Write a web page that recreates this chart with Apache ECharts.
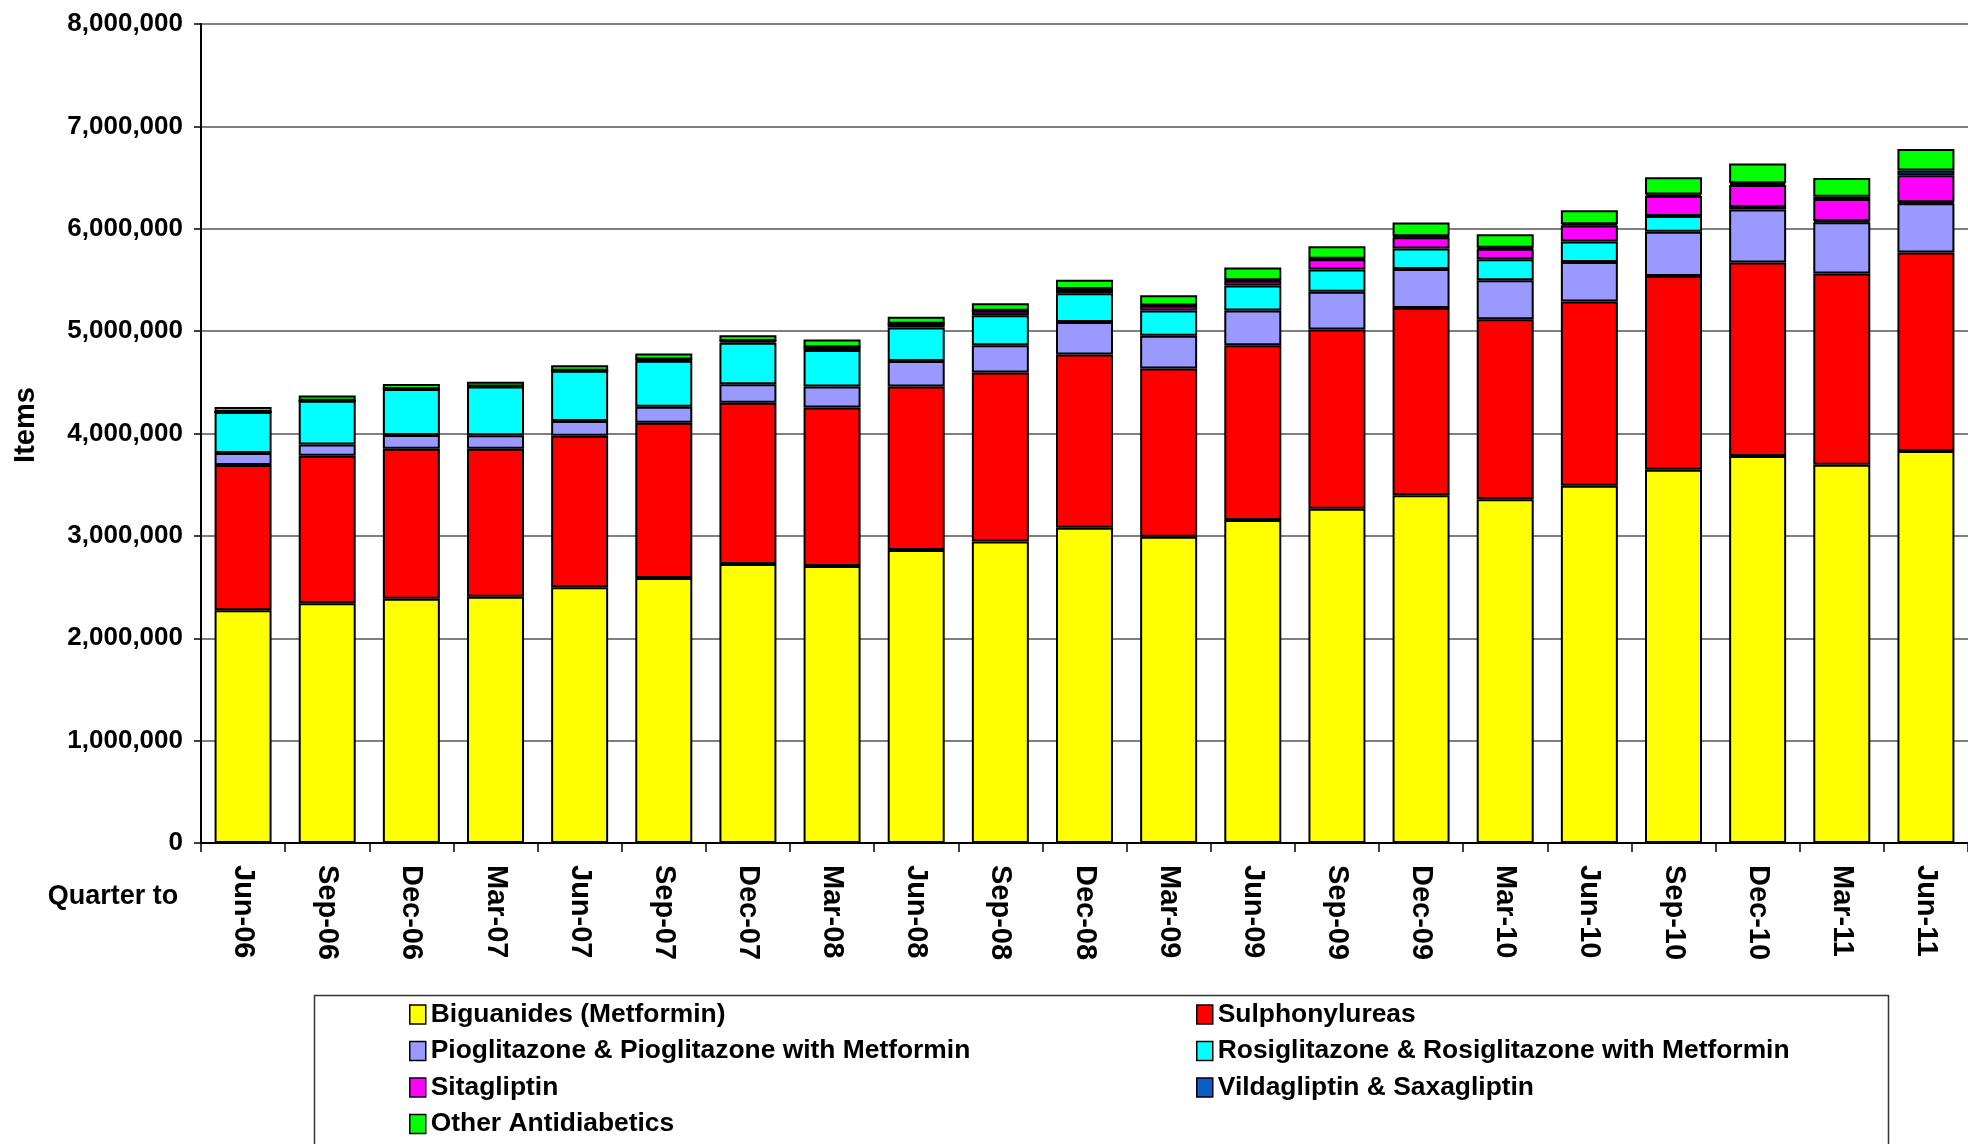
<!DOCTYPE html>
<html>
<head>
<meta charset="utf-8">
<script src="https://cdn.jsdelivr.net/npm/echarts@6/dist/echarts.min.js"></script>
<style>
html,body{margin:0;padding:0;background:#fff;}
#chart{width:1968px;height:1144px;}
</style>
</head>
<body>
<div id="chart"></div>
<script>
const categories = ['Jun-06','Sep-06','Dec-06','Mar-07','Jun-07','Sep-07','Dec-07','Mar-08','Jun-08','Sep-08','Dec-08','Mar-09','Jun-09','Sep-09','Dec-09','Mar-10','Jun-10','Sep-10','Dec-10','Mar-11','Jun-11'];

const biguanides = [2273000,2341000,2386000,2405000,2497000,2588000,2725000,2705000,2861000,2946000,3079000,2991000,3154000,3265000,3396000,3357000,3489000,3646000,3779000,3694000,3828000];
const sulphonylureas = [1419000,1441000,1465000,1445000,1481000,1517000,1575000,1550000,1599000,1650000,1693000,1645000,1709000,1752000,1829000,1758000,1801000,1892000,1892000,1869000,1939000];
const pioglitazone = [117000,111000,134000,134000,144000,156000,180000,205000,247000,267000,316000,318000,339000,367000,381000,381000,384000,433000,516000,501000,483000];
const rosiglitazone = [400000,426000,449000,476000,491000,449000,406000,355000,329000,293000,283000,248000,244000,219000,202000,205000,202000,153000,25000,12000,10000];
const sitagliptin = [0,0,0,0,0,12000,18000,28000,35000,44000,38000,45000,45000,98000,110000,104000,156000,195000,215000,215000,263000];
const vildagliptin = [0,0,0,0,0,0,0,0,0,0,3000,4000,5000,6000,8000,10000,13000,16000,18000,22000,45000];
const otherAntidiabetics = [50000,53000,50000,46000,53000,60000,55000,75000,70000,73000,90000,100000,126000,122000,135000,132000,135000,168000,193000,183000,212000];

const yTicks = { min: 0, max: 8000000, interval: 1000000 };

const seriesDefs = [
  { name: 'Biguanides (Metformin)', data: biguanides, color: '#FFFF00' },
  { name: 'Sulphonylureas', data: sulphonylureas, color: '#FF0000' },
  { name: 'Pioglitazone & Pioglitazone with Metformin', data: pioglitazone, color: '#9999FF' },
  { name: 'Rosiglitazone & Rosiglitazone with Metformin', data: rosiglitazone, color: '#00FFFF' },
  { name: 'Sitagliptin', data: sitagliptin, color: '#FF00FF' },
  { name: 'Vildagliptin & Saxagliptin', data: vildagliptin, color: '#0A5EC8' },
  { name: 'Other Antidiabetics', data: otherAntidiabetics, color: '#00FF00' }
];

const FONT = '"Liberation Sans", Arial, Helvetica, sans-serif';

const chart = echarts.init(document.getElementById('chart'), null, { renderer: 'canvas' });

const legendCols = [409, 1196];
const legendRows = [999.5, 1036, 1072.5, 1109];

const legends = seriesDefs.map((s, i) => ({
  orient: 'horizontal',
  left: legendCols[i % 2],
  top: legendRows[Math.floor(i / 2)],
  itemWidth: 16,
  itemHeight: 19,
  icon: 'rect',
  selectedMode: false,
  padding: 0,
  itemStyle: { borderColor: '#000', borderWidth: 1.5 },
  textStyle: { fontFamily: FONT, fontWeight: 'bold', fontSize: 26.4, color: '#000', lineHeight: 30 },
  data: [s.name]
}));

const option = {
  animation: false,
  backgroundColor: '#fff',
  grid: { left: 201, top: 24, height: 819, width: 1781, containLabel: false },
  xAxis: {
    type: 'category',
    data: categories,
    boundaryGap: true,
    axisLine: { show: true, lineStyle: { color: '#000', width: 2 } },
    axisTick: { show: true, length: 9, interval: 0, lineStyle: { color: '#000', width: 1.5 } },
    axisLabel: {
      interval: 0, rotate: -90, margin: 22,
      fontFamily: FONT, fontWeight: 'bold', fontSize: 29, color: '#000'
    }
  },
  yAxis: {
    type: 'value',
    min: yTicks.min, max: yTicks.max, interval: yTicks.interval,
    axisLine: { show: true, lineStyle: { color: '#000', width: 2 } },
    axisTick: { show: true, length: 7, lineStyle: { color: '#000', width: 1.5 } },
    splitLine: { show: true, lineStyle: { color: '#555', width: 1.5 } },
    axisLabel: {
      margin: 18,
      fontFamily: FONT, fontWeight: 'bold', fontSize: 26, color: '#000',
      formatter: v => v.toLocaleString('en-US')
    }
  },
  legend: legends,
  graphic: [
    { type: 'rect', left: 312, top: 993, shape: { width: 1574, height: 200 }, style: { fill: 'none', stroke: '#333', lineWidth: 1.5 }, z: -1 },
    { type: 'text', x: 26, y: 425, rotation: Math.PI / 2,
      style: { text: 'Items', fontFamily: FONT, fontWeight: 'bold', fontSize: 29, fill: '#000', align: 'center', verticalAlign: 'middle' } },
    { type: 'text', x: 113, y: 897,
      style: { text: 'Quarter to', fontFamily: FONT, fontWeight: 'bold', fontSize: 27, fill: '#000', align: 'center', verticalAlign: 'middle' } }
  ],
  series: seriesDefs.map(s => ({
    name: s.name,
    type: 'bar',
    stack: 'total',
    barWidth: 57,
    data: s.data,
    itemStyle: { color: s.color, borderColor: '#000', borderWidth: 2 },
    emphasis: { disabled: true }
  }))
};

chart.setOption(option);
</script>
</body>
</html>
